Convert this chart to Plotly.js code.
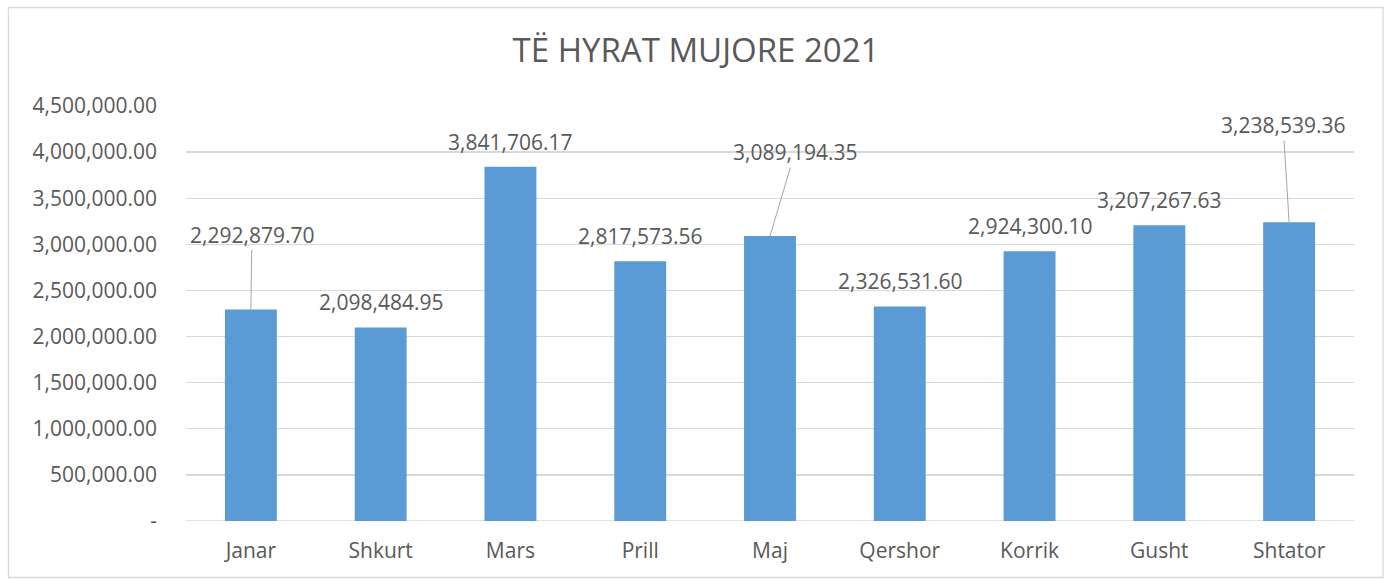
<!DOCTYPE html>
<html>
<head>
<meta charset="utf-8">
<script src="https://cdn.plot.ly/plotly-3.0.1.min.js"></script>
<style>
html,body{margin:0;padding:0;background:#fff;}
#chart{width:1392px;height:579px;}
</style>
</head>
<body>
<div id="chart"></div>
<script>
const months = ["Janar","Shkurt","Mars","Prill","Maj","Qershor","Korrik","Gusht","Shtator"];
const revenues = [2292879.70, 2098484.95, 3841706.17, 2817573.56, 3089194.35, 2326531.60, 2924300.10, 3207267.63, 3238539.36];
const tickValues = [0, 500000, 1000000, 1500000, 2000000, 2500000, 3000000, 3500000, 4000000, 4500000];
const tickLabels = ["-", "500,000.00", "1,000,000.00", "1,500,000.00", "2,000,000.00", "2,500,000.00", "3,000,000.00", "3,500,000.00", "4,000,000.00", "4,500,000.00"];
const chartTitle = "TË HYRAT MUJORE 2021";

const fmt = v => v.toLocaleString("en-US", {minimumFractionDigits: 2, maximumFractionDigits: 2});
const textColor = "#595959";
const fontFam = "'Open Sans', sans-serif";

// leader-line label offsets (pixels) for labels moved away from their bars
const leaders = {0: {ax: 1, ay: -75}, 4: {ax: 25, ay: -84}, 8: {ax: -6, ay: -97}};

const annotations = months.map((m, i) => {
  const base = {
    x: m, y: revenues[i], xref: "x", yref: "y",
    text: fmt(revenues[i]),
    font: {family: fontFam, size: 21, color: textColor}
  };
  if (leaders[i]) {
    return Object.assign(base, {
      showarrow: true, arrowhead: 0, arrowwidth: 1, arrowcolor: "#A6A6A6",
      ax: leaders[i].ax, ay: leaders[i].ay, standoff: 0, startstandoff: 0
    });
  }
  return Object.assign(base, {showarrow: false, yanchor: "middle", yshift: 25});
});

const trace = {
  type: "bar",
  x: months,
  y: revenues,
  marker: {color: "#5B9BD5"},
  hoverinfo: "none"
};

const layout = {
  width: 1392, height: 579,
  margin: {l: 186, r: 38, t: 106, b: 58},
  paper_bgcolor: "#ffffff", plot_bgcolor: "#ffffff",
  showlegend: false,
  bargap: 0.6,
  title: {text: chartTitle, x: 0.5, xref: "container", xanchor: "center", y: 1 - 50/579, yref: "container", yanchor: "middle",
          font: {family: fontFam, size: 33, color: textColor}},
  xaxis: {
    type: "category",
    tickfont: {family: fontFam, size: 21, color: textColor},
    showgrid: false, zeroline: false, showline: false, ticks: "",
    ticklabelstandoff: 15
  },
  yaxis: {
    range: [0, 4500000],
    tickmode: "array", tickvals: tickValues, ticktext: tickLabels,
    tickfont: {family: fontFam, size: 21, color: textColor},
    showgrid: true, gridcolor: "#D9D9D9", gridwidth: 1.3,
    zeroline: false, showline: false, ticks: "",
    ticklabelstandoff: 28
  },
  annotations: annotations,
  shapes: [
    {type: "line", xref: "paper", yref: "y", x0: 0, x1: 1, y0: 0, y1: 0, line: {color: "#D9D9D9", width: 1.3}, layer: "below"},
    {type: "rect", xref: "paper", yref: "paper",
     x0: (8.5 - 186) / 1168, x1: (1383 - 186) / 1168,
     y0: (521 - 577.5) / 415, y1: (521 - 7.5) / 415,
     line: {color: "#D9D9D9", width: 1.3}, fillcolor: "rgba(0,0,0,0)"}
  ]
};

Plotly.newPlot("chart", [trace], layout, {displayModeBar: false, staticPlot: true});
</script>
</body>
</html>
